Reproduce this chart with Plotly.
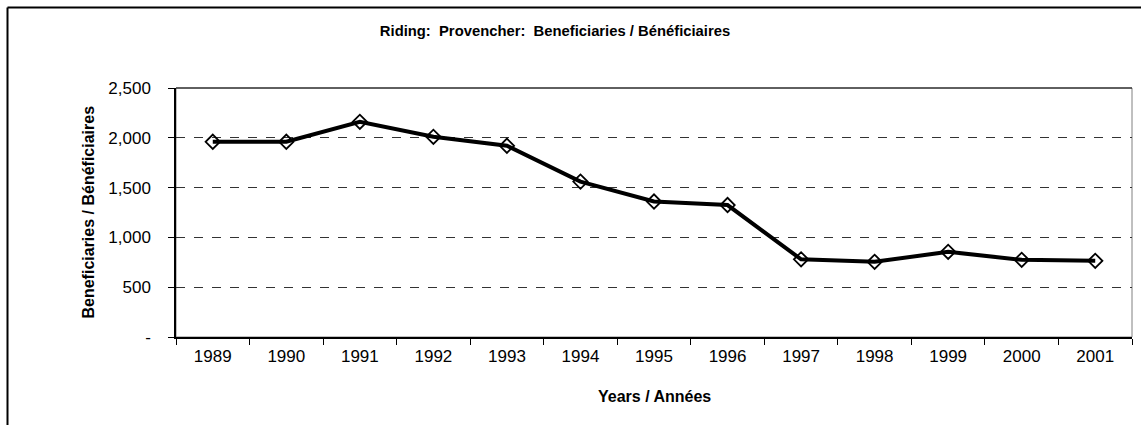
import plotly.graph_objects as go

years = ["1989", "1990", "1991", "1992", "1993", "1994", "1995", "1996", "1997", "1998", "1999", "2000", "2001"]
beneficiaries = [1960, 1960, 2160, 2010, 1920, 1560, 1360, 1325, 780, 755, 855, 775, 765]
y_tickvals = [0, 500, 1000, 1500, 2000, 2500]
y_ticktext = ["-", "500", "1,000", "1,500", "2,000", "2,500"]

W, H = 1141, 425
L, R, T, B = 176, 1132, 88, 337
pw, ph = R - L, B - T

def px(x):
    return (x - L) / pw

def py(y):
    return (B - y) / ph

bold = "Liberation Sans Narrow, Arial Narrow, Liberation Sans, Arial, sans-serif"
regular = "Liberation Sans, Arial, sans-serif"

fig = go.Figure()
fig.add_trace(go.Scatter(
    x=years, y=beneficiaries, mode="lines+markers",
    line=dict(color="black", width=4),
    marker=dict(symbol="diamond-open", size=11, color="black", line=dict(width=1.8, color="black")),
    showlegend=False, hoverinfo="x+y",
))

fig.update_layout(
    width=W, height=H,
    margin=dict(l=L, r=W - R, t=T, b=H - B, autoexpand=False),
    paper_bgcolor="white", plot_bgcolor="white",
    title=dict(text="<b>Riding:  Provencher:  Beneficiaries / Bénéficiaires</b>",
               x=555 / W, xanchor="center", y=1 - 31 / H, yanchor="middle",
               font=dict(family=bold, size=14.8, color="black")),
    xaxis=dict(type="category", range=[-0.5, 12.5], tickson="boundaries",
               ticks="outside", ticklen=6, tickcolor="black", tickwidth=1,
               showline=True, linecolor="black", linewidth=1.5,
               showgrid=False, zeroline=False, ticklabelstandoff=3,
               tickfont=dict(family=regular, size=17, color="black")),
    yaxis=dict(range=[0, 2500], tickvals=y_tickvals, ticktext=y_ticktext,
               ticks="outside", ticklen=6, tickcolor="black", tickwidth=1,
               showline=True, linecolor="black", linewidth=1.5,
               showgrid=True, gridcolor="#333333", gridwidth=1, griddash="dash",
               zeroline=False, ticklabelstandoff=14,
               tickfont=dict(family=regular, size=17, color="black")),
    annotations=[
        dict(text="<b>Years / Années</b>", xref="paper", yref="paper",
             x=0.5, y=py(396), xanchor="center", yanchor="middle", showarrow=False,
             font=dict(family=bold, size=16, color="black")),
        dict(text="<b>Beneficiaries / Bénéficiaires</b>", xref="paper", yref="paper",
             x=px(88), y=0.5, xanchor="center", yanchor="middle", textangle=-90, showarrow=False,
             font=dict(family=bold, size=16, color="black")),
    ],
    shapes=[
        dict(type="rect", xref="paper", yref="paper", x0=0, x1=1, y0=0, y1=1,
             line=dict(color="#808080", width=1), layer="below"),
        dict(type="line", xref="paper", yref="paper", x0=0, x1=1, y0=1, y1=1,
             line=dict(color="black", width=1.2)),
        dict(type="line", xref="paper", yref="paper", x0=px(7.5), x1=px(1150), y0=py(7.5), y1=py(7.5),
             line=dict(color="black", width=2)),
        dict(type="line", xref="paper", yref="paper", x0=px(7.5), x1=px(7.5), y0=py(7.5), y1=py(440),
             line=dict(color="black", width=2)),
    ],
)

fig.write_html("out.html", config={"displayModeBar": False},
               post_script="document.body.style.margin='0';document.body.style.padding='0';")
